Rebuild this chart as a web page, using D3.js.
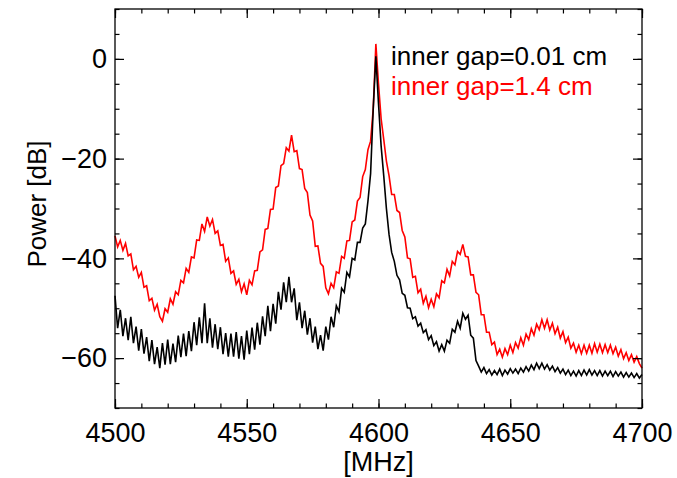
<!DOCTYPE html>
<html>
<head>
<meta charset="utf-8">
<script src="https://cdn.jsdelivr.net/npm/d3@7"></script>
<style>
  body { margin: 0; background: #fff; }
  text { font-family: "Liberation Sans", Arial, Helvetica, sans-serif; }
</style>
</head>
<body>
<div id="chart"></div>
<script>
// Frequency grid [MHz], one sample per MHz
const freq = d3.range(4500, 4701, 1);

// Power [dB], inner gap = 0.01 cm (black)
const powerGap001 = [
  -47.5, -54.0, -50.3, -55.6, -52.0, -56.4, -51.7, -57.0, -53.7, -58.5,
  -54.2, -59.1, -55.8, -60.6, -56.4, -61.2, -57.8, -62.0, -57.0, -61.3,
  -56.3, -61.2, -57.1, -60.8, -55.5, -59.8, -55.1, -59.6, -54.6, -58.6,
  -52.8, -57.4, -51.8, -57.0, -49.0, -57.0, -52.0, -57.9, -53.2, -58.2,
  -53.8, -59.2, -55.0, -59.7, -55.1, -59.7, -54.8, -60.1, -55.6, -60.3,
  -54.5, -59.2, -53.9, -58.3, -52.9, -57.3, -51.6, -55.6, -49.5, -54.6,
  -49.1, -53.1, -46.7, -50.3, -44.8, -48.8, -43.7, -48.8, -46.0, -52.4,
  -48.8, -54.0, -50.5, -55.3, -52.0, -56.9, -53.7, -58.2, -55.4, -58.5,
  -53.7, -56.3, -51.7, -53.8, -49.5, -50.7, -46.0, -46.8, -42.8, -43.7,
  -40.0, -40.3, -36.8, -36.8, -33.9, -33.1, -28.5, -23.0, -10.0, 0.5,
  -9.0, -17.5, -23.5, -30.0, -35.2, -38.8, -40.6, -43.4, -44.3, -47.0,
  -47.4, -49.9, -50.0, -52.1, -51.7, -53.6, -53.0, -54.9, -54.3, -56.3,
  -55.5, -57.5, -56.7, -58.6, -57.3, -58.6, -56.4, -57.0, -54.2, -54.8,
  -52.6, -54.0, -51.0, -52.2, -51.4, -55.4, -56.0, -60.5, -61.6, -62.8,
  -61.9, -63.1, -62.3, -63.4, -62.5, -63.3, -62.2, -63.5, -62.4, -63.2,
  -62.1, -63.0, -62.2, -63.1, -62.0, -62.8, -61.7, -62.6, -61.4, -62.3,
  -61.0, -62.1, -61.0, -62.2, -61.3, -62.4, -61.6, -62.7, -61.9, -63.0,
  -62.2, -63.3, -62.4, -63.5, -62.6, -63.6, -62.5, -63.5, -62.4, -63.4,
  -62.3, -63.4, -62.5, -63.5, -62.5, -63.6, -62.6, -63.5, -62.6, -63.7,
  -62.7, -63.6, -62.8, -63.8, -62.9, -63.8, -63.0, -63.9, -63.1, -64.0,
  -63.3
];

// Power [dB], inner gap = 1.4 cm (red)
const powerGap14 = [
  -35.5, -37.7, -36.4, -38.4, -37.0, -39.5, -39.1, -42.3, -41.6, -43.8,
  -42.8, -45.8, -45.5, -48.5, -48.0, -50.4, -49.2, -51.7, -52.6, -50.1,
  -50.8, -48.1, -49.2, -46.7, -47.3, -44.4, -44.9, -42.0, -42.8, -39.7,
  -39.9, -36.3, -36.4, -33.1, -34.6, -31.7, -33.5, -32.2, -35.0, -34.5,
  -37.4, -37.2, -40.6, -39.9, -43.0, -42.5, -45.2, -44.2, -46.7, -45.1,
  -47.3, -44.4, -45.3, -42.5, -42.4, -38.7, -38.3, -34.2, -34.0, -30.2,
  -30.1, -25.8, -25.5, -21.4, -21.0, -17.8, -18.5, -15.3, -18.6, -18.4,
  -22.0, -22.2, -26.0, -26.8, -31.3, -32.5, -37.6, -37.5, -41.0, -41.6,
  -45.9, -47.1, -45.0, -45.9, -42.7, -43.0, -39.6, -40.0, -36.5, -36.4,
  -32.7, -32.3, -28.5, -27.8, -23.6, -22.2, -18.2, -16.5, -10.0, 3.0,
  -5.0, -12.0, -16.2, -20.5, -23.4, -27.2, -27.2, -30.4, -30.8, -34.4,
  -35.7, -39.9, -40.1, -43.8, -43.6, -46.9, -46.2, -49.0, -47.6, -49.9,
  -48.2, -49.7, -47.1, -47.9, -44.5, -44.9, -42.2, -43.5, -40.6, -41.3,
  -38.6, -39.2, -37.2, -39.6, -39.7, -43.3, -43.3, -46.8, -47.3, -51.3,
  -51.3, -54.8, -54.8, -57.3, -56.8, -59.3, -58.2, -59.8, -58.1, -59.3,
  -57.4, -58.9, -56.9, -58.0, -55.9, -57.4, -55.2, -56.3, -54.1, -55.4,
  -53.2, -54.3, -52.3, -54.0, -52.3, -54.4, -53.0, -55.1, -53.8, -56.0,
  -54.7, -56.9, -55.8, -58.0, -57.0, -58.8, -57.4, -59.1, -57.4, -59.0,
  -57.4, -59.0, -57.1, -58.8, -57.2, -58.9, -57.3, -58.9, -57.4, -59.1,
  -57.8, -59.6, -58.3, -60.1, -58.9, -60.5, -59.3, -60.8, -59.7, -61.1,
  -62.0
];

// Tick values
const xTicks = [4500, 4550, 4600, 4650, 4700];
const xMinorTicks = d3.range(4500, 4701, 10);
const yTicks = [-60, -40, -20, 0];
const yMinorTicks = d3.range(-70, 11, 5);

const legendLabels = ["inner gap=0.01 cm", "inner gap=1.4 cm"];

// Plot box
const W = 677, H = 478;
const plotLeft = 115, plotRight = 642, plotTop = 9, plotBottom = 408;

const svg = d3.select("#chart")
  .append("svg")
    .attr("width", W)
    .attr("height", H);

const x = d3.scaleLinear().domain([4500, 4700]).range([plotLeft, plotRight]);
const y = d3.scaleLinear().domain([-70, 10]).range([plotBottom, plotTop]);

const FS = 27;

// Curves
const line = d3.line()
    .x((d, i) => x(freq[i]))
    .y(d => y(d));

svg.append("path")
    .datum(powerGap14)
    .attr("fill", "none")
    .attr("stroke", "#ff0000")
    .attr("stroke-width", 1.6)
    .attr("d", line);

svg.append("path")
    .datum(powerGap001)
    .attr("fill", "none")
    .attr("stroke", "#000")
    .attr("stroke-width", 1.6)
    .attr("d", line);

// Axes: ticks pointing inward on all four sides
function styleAxis(g) {
  g.select(".domain").remove();
  g.selectAll(".tick line").attr("stroke", "#000").attr("stroke-width", 1.2);
  g.selectAll(".tick text")
    .attr("fill", "#000")
    .style("font-size", FS + "px")
    .style("font-family", '"Liberation Sans", Arial, sans-serif');
}

// bottom
svg.append("g")
    .attr("transform", `translate(0,${plotBottom})`)
    .call(d3.axisBottom(x).tickValues(xMinorTicks).tickSize(-4.5).tickFormat(""))
    .call(styleAxis);
svg.append("g")
    .attr("transform", `translate(0,${plotBottom})`)
    .call(d3.axisBottom(x).tickValues(xTicks).tickSize(-9).tickPadding(15).tickFormat(d3.format("d")))
    .call(styleAxis);

// top
svg.append("g")
    .attr("transform", `translate(0,${plotTop})`)
    .call(d3.axisTop(x).tickValues(xMinorTicks).tickSize(-4.5).tickFormat(""))
    .call(styleAxis);
svg.append("g")
    .attr("transform", `translate(0,${plotTop})`)
    .call(d3.axisTop(x).tickValues(xTicks).tickSize(-9).tickFormat(""))
    .call(styleAxis);

// left
svg.append("g")
    .attr("transform", `translate(${plotLeft},0)`)
    .call(d3.axisLeft(y).tickValues(yMinorTicks).tickSize(-4.5).tickFormat(""))
    .call(styleAxis);
svg.append("g")
    .attr("transform", `translate(${plotLeft},0)`)
    .call(d3.axisLeft(y).tickValues(yTicks).tickSize(-9).tickPadding(8).tickFormat(d3.format("d")))
    .call(styleAxis);

// right
svg.append("g")
    .attr("transform", `translate(${plotRight},0)`)
    .call(d3.axisRight(y).tickValues(yMinorTicks).tickSize(-4.5).tickFormat(""))
    .call(styleAxis);
svg.append("g")
    .attr("transform", `translate(${plotRight},0)`)
    .call(d3.axisRight(y).tickValues(yTicks).tickSize(-9).tickFormat(""))
    .call(styleAxis);

// frame
svg.append("rect")
    .attr("x", plotLeft)
    .attr("y", plotTop)
    .attr("width", plotRight - plotLeft)
    .attr("height", plotBottom - plotTop)
    .attr("fill", "none")
    .attr("stroke", "#000")
    .attr("stroke-width", 1.3);

// Axis titles
svg.append("text")
    .attr("x", (plotLeft + plotRight) / 2)
    .attr("y", 471)
    .attr("text-anchor", "middle")
    .style("font-size", FS + "px")
    .text("[MHz]");

svg.append("text")
    .attr("transform", "translate(46,204) rotate(-90)")
    .attr("text-anchor", "middle")
    .style("font-size", "26px")
    .text("Power [dB]");

// Legend
const legendColors = ["#000", "#ff0000"];
svg.selectAll(".legend")
  .data(legendLabels)
  .join("text")
    .attr("class", "legend")
    .attr("x", 391)
    .attr("y", (d, i) => 65 + i * 29.5)
    .attr("fill", (d, i) => legendColors[i])
    .style("font-size", "26px")
    .text(d => d);
</script>
</body>
</html>
